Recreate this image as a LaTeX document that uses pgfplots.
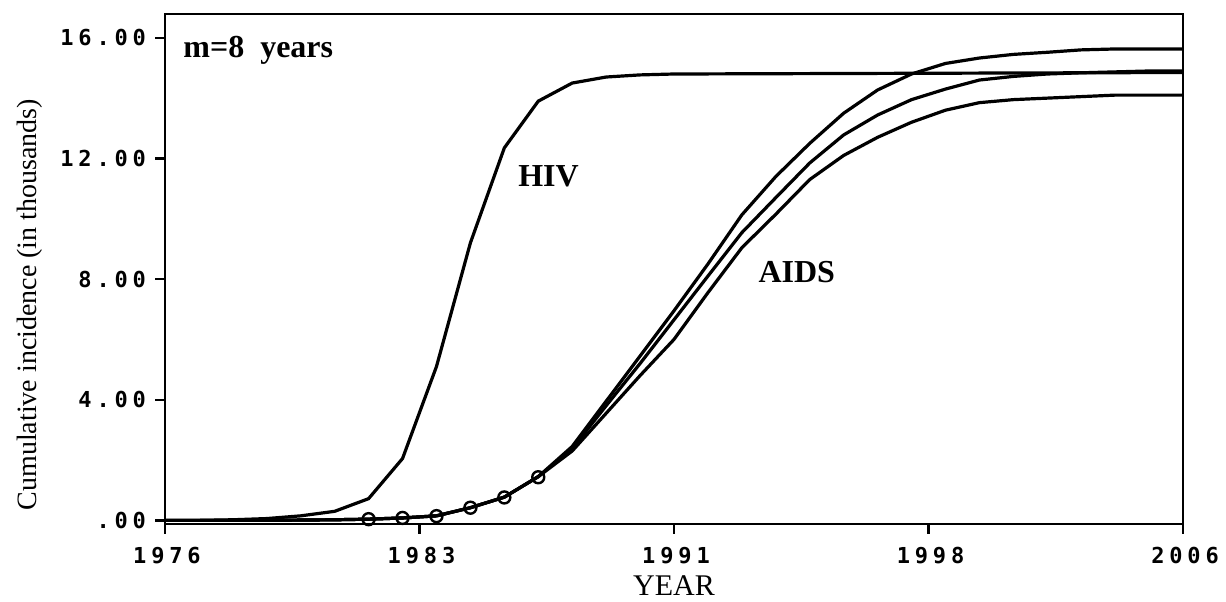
\documentclass[border=0pt]{standalone}
\usepackage{pgfplots}
\pgfplotsset{compat=1.18}
\usepackage{pgfplotstable}
\usepackage{fontspec}
\setmainfont{Liberation Serif}
\newfontfamily\tickfont[LetterSpace=22]{DejaVu Sans Mono}

\pgfplotstableread{
year val
1976 0
1977 0
1978 0.02
1979 0.06
1980 0.15
1981 0.30
1982 0.72
1983 2.05
1984 5.1
1985 9.2
1986 12.35
1987 13.9
1988 14.5
1989 14.7
1990 14.77
1991 14.8
2006 14.85
}\hiv

\pgfplotstableread{
year a1 a2 a3
1976 0 0 0
1977 0 0 0
1978 0 0 0
1979 0 0 0
1980 0.01 0.01 0.01
1981 0.02 0.02 0.02
1982 0.04 0.04 0.04
1983 0.08 0.08 0.08
1984 0.15 0.15 0.15
1985 0.42 0.42 0.42
1986 0.77 0.77 0.77
1987 1.45 1.45 1.45
1988 2.45 2.38 2.30
1989 3.95 3.80 3.55
1990 5.45 5.20 4.80
1991 6.95 6.65 6.00
1992 8.50 8.10 7.55
1993 10.13 9.54 9.04
1994 11.40 10.70 10.15
1995 12.50 11.85 11.30
1996 13.50 12.78 12.10
1997 14.27 13.44 12.70
1998 14.80 13.95 13.20
1999 15.15 14.30 13.60
2000 15.33 14.60 13.85
2001 15.45 14.72 13.95
2002 15.52 14.80 14.00
2003 15.60 14.84 14.05
2004 15.63 14.87 14.10
2005 15.63 14.90 14.10
2006 15.63 14.90 14.10
}\aids

\pgfplotstableread{
year obs
1982 0.04
1983 0.08
1984 0.14
1985 0.42
1986 0.76
1987 1.43
}\obs

\begin{document}
\begin{tikzpicture}
\begin{axis}[
  name=ax,
  scale only axis,
  width=509pt, height=255pt,
  xmin=1976, xmax=2006,
  ymin=-0.12, ymax=16.79,
  axis line style={line width=1.3pt},
  tick align=outside,
  xtick pos=bottom, ytick pos=left,
  major tick length=5pt,
  tick style={line width=1.2pt, black},
  xtick={1976,1983.5,1991,1998.5,2006},
  xticklabels={1976,1983,1991,1998,2006},
  ytick={0,4,8,12,16},
  yticklabels={.00,4.00,8.00,12.00,16.00},
  ticklabel style={font=\tickfont\bfseries\fontsize{11}{13}\selectfont},
  xticklabel style={yshift=-3pt, xshift=1pt},
  yticklabel style={xshift=-1pt},
  xlabel={YEAR},
  ylabel={Cumulative incidence (in thousands)},
  xlabel style={font=\fontsize{15}{17}\selectfont, at={(axis description cs:0.5,-0.12)}, anchor=center},
  ylabel style={font=\fontsize{14}{17}\selectfont, at={(axis description cs:-0.133,0.43)}, anchor=center},
  clip=false,
]
\addplot[black, line width=1.6pt] table[x=year, y=val] {\hiv};
\addplot[black, line width=1.6pt] table[x=year, y=a1] {\aids};
\addplot[black, line width=1.6pt] table[x=year, y=a2] {\aids};
\addplot[black, line width=1.6pt] table[x=year, y=a3] {\aids};
\addplot[black, only marks, mark=o, mark size=3pt, mark options={line width=1.2pt}] table[x=year, y=obs] {\obs};
\node[anchor=base west, inner sep=0, font=\bfseries\fontsize{16}{18}\selectfont] at (axis cs:1976.53,15.36) {m=8~~years};
\node[anchor=base west, inner sep=0, font=\bfseries\fontsize{16}{18}\selectfont] at (axis cs:1986.4,11.06) {HIV};
\node[anchor=base west, inner sep=0, font=\bfseries\fontsize{16}{18}\selectfont] at (axis cs:1993.48,7.88) {AIDS};
\end{axis}
\pgfresetboundingbox
\path (ax.south west) ++(-82.5pt,-39pt) coordinate (bl);
\path (ax.north east) ++(21.5pt,7pt) coordinate (tr);
\path[use as bounding box] (bl) rectangle (tr);
\end{tikzpicture}
\end{document}
